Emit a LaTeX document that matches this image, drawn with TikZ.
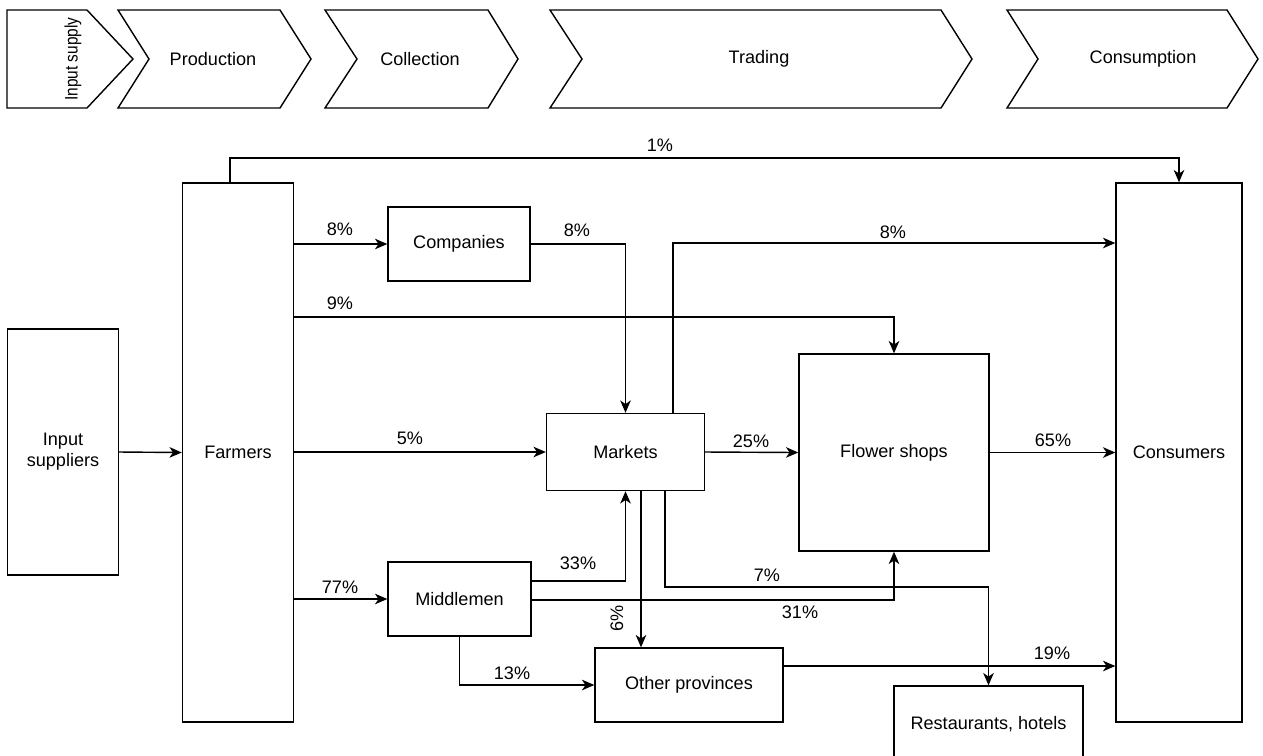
\documentclass[tikz,border=0pt]{standalone}
\usepackage{fontspec}
\setmainfont{Liberation Sans}
\usetikzlibrary{arrows.meta}

\tikzset{
  every node/.style={font=\fontsize{10.3}{12}\selectfont, text=black},
  blk/.style n args={2}{draw, line width=0.8pt, inner sep=0pt, align=center,
    minimum width=#1*0.02cm, minimum height=#2*0.02cm},
  arr/.style={draw, line width=0.8pt, -{Stealth[length=7pt,width=6pt,inset=2pt]}},
  chev/.style={draw, line width=0.8pt, line join=miter},
  lbl/.style={inner sep=1pt},
}

\begin{document}
\begin{tikzpicture}[x=0.02cm, y=-0.02cm]
\useasboundingbox (0,0) rectangle (1263,755);
\clip (0,0) rectangle (1263,755);

% ---- value-chain stages ----
\draw[chev] (7,10) -- (87,10) -- (133,59) -- (87,108) -- (7,108) -- cycle;
\draw[chev] (118,10) -- (280,10) -- (311,59) -- (280,108) -- (118,108) -- (149,59) -- cycle;
\draw[chev] (325,10) -- (488,10) -- (518,59) -- (488,108) -- (325,108) -- (357,59) -- cycle;
\draw[chev] (550,10) -- (941,10) -- (972,59) -- (941,108) -- (550,108) -- (582,59) -- cycle;
\draw[chev] (1007,10) -- (1227,10) -- (1258,59) -- (1227,108) -- (1007,108) -- (1038,59) -- cycle;

\node[rotate=90] (sInput) at (73,59) {\scalebox{0.85}[1]{Input supply}};
\node (sProd) at (213,59) {Production};
\node (sColl) at (420,59) {Collection};
\node (sTrad) at (759,59) {Trading};
\node (sCons) at (1143,59) {Consumption};

% ---- actors ----
\node[blk={111}{246}] (inp)  at (63,452)    {Input\\suppliers};
\node[blk={111}{539}] (farm) at (238,452.5) {Farmers};
\node[blk={142}{74}]  (comp) at (459,244)   {Companies};
\node[blk={158}{77}]  (mkt)  at (625.5,452) {Markets};
\node[blk={190}{197}] (shop) at (894,452.5) {Flower shops};
\node[blk={126}{539}] (cons) at (1179,452.5){Consumers};
\node[blk={143}{74}]  (mid)  at (459.5,599) {Middlemen};
\node[blk={188}{74}]  (oth)  at (689,685)   {Other provinces};
\node[blk={189}{76}]  (rest) at (988.5,724) {Restaurants, hotels};

% ---- routing helpers ----
\coordinate (t1)   at (230,158);
\coordinate (y317) at (0,317);
\coordinate (y243) at (0,243);
\coordinate (x673) at (673,0);
\coordinate (y581) at (0,581);
\coordinate (y600) at (0,600);
\coordinate (x641) at (641,0);
\coordinate (x665) at (665,0);
\coordinate (y666) at (0,666);
\coordinate (y587) at (0,587);

% ---- flows ----
\draw[arr] (inp.east) -- (farm.west);
\draw[arr] (farm.north -| t1) -- (t1) -| (cons.north);
\draw[arr] (farm.east |- comp.west) -- (comp.west);
\draw[arr] (comp.east) -| (mkt.north);
\draw[arr] (farm.east |- y317) -| (shop.north);
\draw[arr] (farm.east |- mkt.west) -- (mkt.west);
\draw[arr] (mkt.north -| x673) |- (cons.west |- y243);
\draw[arr] (mkt.east) -- (shop.west);
\draw[arr] (shop.east) -- (cons.west);
\draw[arr] (farm.east |- mid.west) -- (mid.west);
\draw[arr] (mid.east |- y581) -| (mkt.south);
\draw[arr] (mid.east |- y600) -| (shop.south);
\draw[arr] (mkt.south -| x641) -- (oth.north -| x641);
\draw[arr] (mkt.south -| x665) |- (rest.north |- y587) -- (rest.north);
\draw[arr] (mid.south) |- (oth.west);
\draw[arr] (oth.east |- y666) -- (cons.west |- y666);

% ---- shares ----
\node[lbl] (p1)  at (660,145) {1\%};
\node[lbl] (p8a) at (340,229) {8\%};
\node[lbl] (p8b) at (577,230) {8\%};
\node[lbl] (p9)  at (340,303) {9\%};
\node[lbl] (p8c) at (893,232) {8\%};
\node[lbl] (p5)  at (410,438) {5\%};
\node[lbl] (p25) at (751,441) {25\%};
\node[lbl] (p65) at (1053,440) {65\%};
\node[lbl] (p33) at (578,563) {33\%};
\node[lbl] (p7)  at (767,575) {7\%};
\node[lbl] (p77) at (340,587) {77\%};
\node[lbl] (p31) at (800,612) {31\%};
\node[lbl,rotate=90] (p6) at (617,618) {6\%};
\node[lbl] (p13) at (512,673) {13\%};
\node[lbl] (p19) at (1052,653) {19\%};
\end{tikzpicture}
\end{document}
